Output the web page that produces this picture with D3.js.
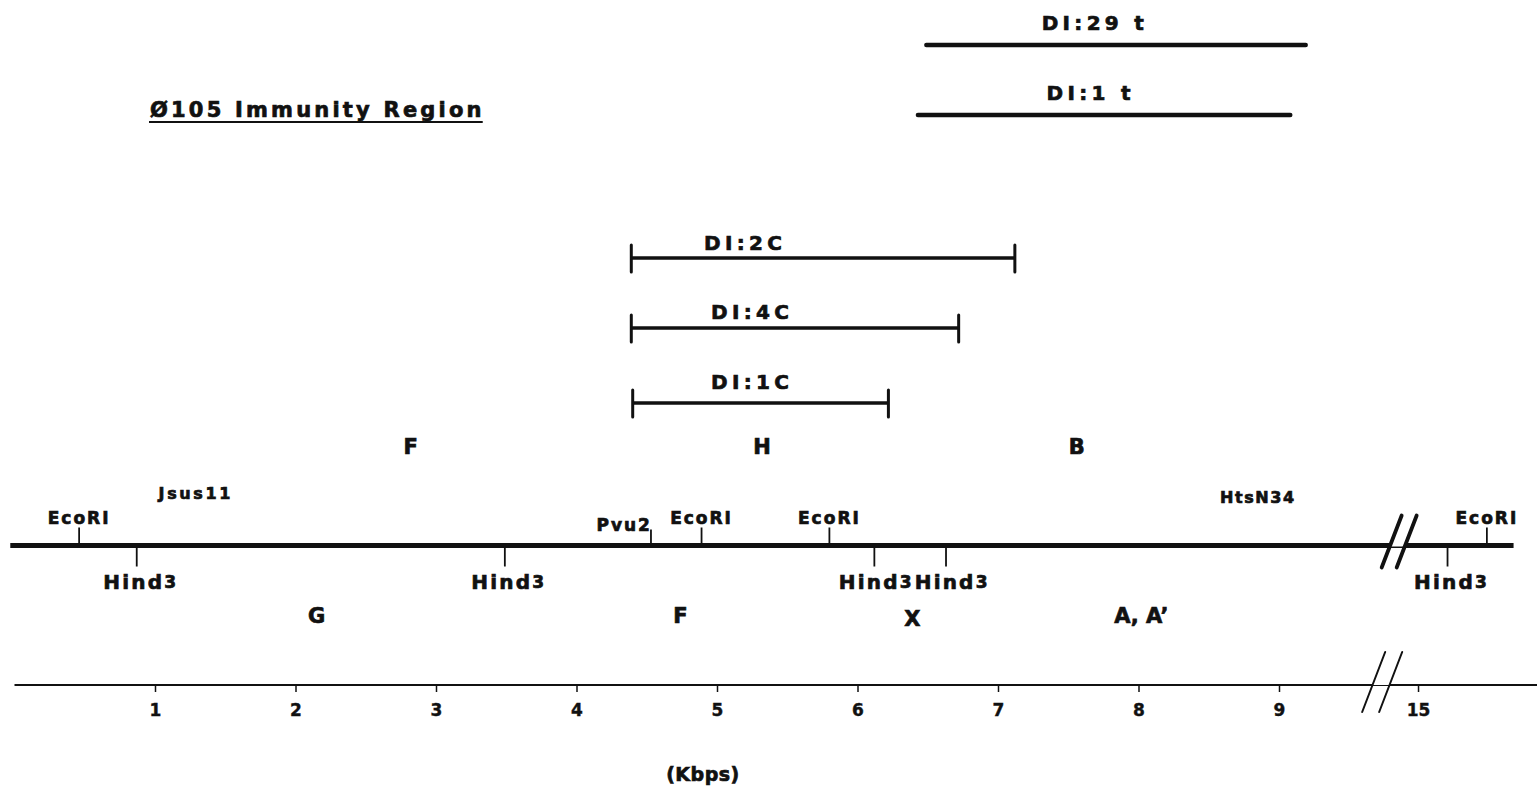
<!DOCTYPE html>
<html>
<head>
<meta charset="utf-8">
<script src="https://cdn.jsdelivr.net/npm/d3@7"></script>
<style>
  html, body { margin: 0; padding: 0; background: #fff; }
  svg text { font-family: "DejaVu Sans", "Liberation Sans", sans-serif; font-weight: bold; fill: #111;
             stroke: #111; stroke-width: 0.7px; paint-order: stroke; }
  .title { font-size: 21px; letter-spacing: 3.2px; }
  .site { font-size: 17px; letter-spacing: 2px; }
  .hind { font-size: 20px; letter-spacing: 2.2px; }
  .frag { font-size: 21px; }
  .marker { font-size: 16px; letter-spacing: 2.6px; }
  .marker.hts { letter-spacing: 1.6px; }
  .span-label { font-size: 20px; letter-spacing: 4.3px; }
  .axis text { font-size: 17px; font-family: "DejaVu Sans", sans-serif; font-weight: bold; fill: #111;
               stroke: #111; stroke-width: 0.4px; }
  .unit { font-size: 19px; letter-spacing: 0.5px; }
</style>
</head>
<body>
<svg id="chart" width="1537" height="787"></svg>
<script>
// ---- Data (positions in kilobase pairs) ----
const siteNames     = ["EcoRI", "Hind3", "Hind3", "Pvu2", "EcoRI", "EcoRI", "Hind3", "Hind3", "Hind3", "EcoRI"];
const sitePositions = [0.46, 0.87, 3.49, 4.53, 4.89, 5.80, 6.12, 6.63, 15.21, 15.49];

const upperFragNames   = ["F", "H", "B"];
const upperFragCenters = [2.82, 5.32, 7.56];
const lowerFragNames   = ["G", "F", "X", "A, A\u2019"];
const lowerFragCenters = [2.15, 4.74, 6.39, 8.02];

const markerNames     = ["Jsus11", "HtsN34"];
const markerPositions = [1.29, 8.85];

const spanNames    = ["DI:29 t", "DI:1 t", "DI:2C", "DI:4C", "DI:1C"];
const spanStarts   = [6.49, 6.43, 4.39, 4.39, 4.40];
const spanEnds     = [9.19, 9.08, 7.12, 6.72, 6.22];
const spanCapped   = [false, false, true, true, true];
const spanLabelKb  = [7.69, 7.66, 5.20, 5.25, 5.25];

const tickValues = [1, 2, 3, 4, 5, 6, 7, 8, 9, 15];
const mapExtent  = [-0.03, 15.68];
const axisExtent = [0, 15.9];
const gapKb      = [9.75, 14.9];   // region of the map left out by the break

// ---- Layout ----
const svg = d3.select("#chart");
const x0 = 14.5, pxPerKb = 140.5, gapPx = 19.6;
const x = d3.scaleLinear()
  .domain([0, gapKb[0], gapKb[1], 16])
  .range([x0, x0 + gapKb[0] * pxPerKb, x0 + gapKb[0] * pxPerKb + gapPx,
          x0 + gapKb[0] * pxPerKb + gapPx + (16 - gapKb[1]) * pxPerKb]);

const mapY = 545.5;
const axisY = 685;
const rowY = [45, 115, 258, 328, 403];
const rowLabelY = [30, 100, 250, 319, 389];

// ---- Title ----
const title = svg.append("text").attr("class", "title").attr("x", 150).attr("y", 117).text("\u00d8105 Immunity Region");
const tb = title.node().getBBox();
svg.append("line").attr("x1", tb.x - 1).attr("x2", tb.x + tb.width - 2)
  .attr("y1", 122).attr("y2", 122).attr("stroke", "#111").attr("stroke-width", 2.2);

// ---- Break mark helper: two slashes with the line blanked out between them ----
function breakMark(cx, cy, halfH, halfDx, gap, strokeW, maskH) {
  const g = svg.append("g");
  const a = cx - gap / 2, b = cx + gap / 2;
  const slope = halfDx / halfH;
  g.append("polygon")
    .attr("points", [
      [a - maskH * slope, cy + maskH], [a + maskH * slope, cy - maskH],
      [b + maskH * slope, cy - maskH], [b - maskH * slope, cy + maskH]
    ].map(p => p.join(",")).join(" "))
    .attr("fill", "#fff");
  [a, b].forEach(c => {
    g.append("line")
      .attr("x1", c - halfDx).attr("y1", cy + halfH)
      .attr("x2", c + halfDx).attr("y2", cy - halfH)
      .attr("stroke", "#111").attr("stroke-width", strokeW).attr("stroke-linecap", "round");
  });
}
const gapMid = (x(gapKb[0]) + x(gapKb[1])) / 2;

// ---- Restriction map ----
svg.append("line")
  .attr("x1", x(mapExtent[0])).attr("x2", x(mapExtent[1]))
  .attr("y1", mapY).attr("y2", mapY)
  .attr("stroke", "#111").attr("stroke-width", 5);
breakMark(gapMid + 5, mapY - 4, 26, 10, 15, 3.8, 5);

const sites = siteNames.map((n, i) => ({ name: n, pos: sitePositions[i], above: n !== "Hind3" }));
const siteG = svg.append("g").selectAll("g").data(sites).join("g")
  .attr("transform", d => `translate(${x(d.pos)},${mapY})`);
siteG.append("line")
  .attr("x1", 0).attr("x2", 0)
  .attr("y1", d => d.above ? -2 : 2)
  .attr("y2", d => d.above ? (d.name === "Pvu2" ? -16 : -18) : 21)
  .attr("stroke", "#111").attr("stroke-width", 1.8);

// Labels above the line
siteG.filter(d => d.above).append("text")
  .attr("class", "site")
  .attr("text-anchor", d => d.name === "Pvu2" ? "end" : "middle")
  .attr("x", d => d.name === "Pvu2" ? 1 : 0)
  .attr("y", d => d.name === "Pvu2" ? -15 : -22)
  .text(d => d.name);

// Labels below the line (Hind3), nudged apart where neighbours would collide
const hindLabels = svg.append("g").selectAll("text").data(sites.filter(d => !d.above)).join("text")
  .attr("class", "hind").attr("text-anchor", "middle")
  .attr("x", d => x(d.pos) + 4).attr("y", mapY + 43);
hindLabels.append("tspan").text("Hind");
hindLabels.append("tspan").attr("font-size", "17px").attr("dy", -1).text("3");
const hindNodes = hindLabels.nodes();
for (let i = 1; i < hindNodes.length; i++) {
  const a = hindNodes[i - 1].getBBox(), b = hindNodes[i].getBBox();
  const overlap = a.x + a.width + 1 - b.x;
  if (overlap > 0) {
    d3.select(hindNodes[i - 1]).attr("x", +hindNodes[i - 1].getAttribute("x") - overlap / 2);
    d3.select(hindNodes[i]).attr("x", +hindNodes[i].getAttribute("x") + overlap / 2);
  }
}

// ---- Fragment letters ----
svg.append("g").selectAll("text").data(upperFragNames).join("text")
  .attr("class", "frag").attr("text-anchor", "middle")
  .attr("x", (d, i) => x(upperFragCenters[i])).attr("y", 454).text(d => d);
svg.append("g").selectAll("text").data(lowerFragNames).join("text")
  .attr("class", "frag").attr("text-anchor", "middle")
  .attr("x", (d, i) => x(lowerFragCenters[i])).attr("y", (d, i) => d === "X" ? 626 : 623).text(d => d);

// ---- Mutation markers ----
svg.append("g").selectAll("text").data(markerNames).join("text")
  .attr("class", (d, i) => i === 0 ? "marker" : "marker hts").attr("text-anchor", "middle")
  .attr("x", (d, i) => x(markerPositions[i])).attr("y", (d, i) => i === 0 ? 499 : 503).text(d => d);

// ---- Deletion / clone spans ----
const spans = spanNames.map((n, i) => ({ name: n, s: spanStarts[i], e: spanEnds[i], capped: spanCapped[i], lab: spanLabelKb[i], y: rowY[i], ly: rowLabelY[i] }));
const spanG = svg.append("g").selectAll("g").data(spans).join("g");
spanG.append("line")
  .attr("x1", d => x(d.s)).attr("x2", d => x(d.e))
  .attr("y1", d => d.y).attr("y2", d => d.y)
  .attr("stroke", "#111").attr("stroke-width", d => d.capped ? 3.5 : 4.5)
  .attr("stroke-linecap", d => d.capped ? "butt" : "round");
spanG.filter(d => d.capped).each(function (d) {
  const g = d3.select(this);
  [d.s, d.e].forEach(v => {
    g.append("line").attr("x1", x(v)).attr("x2", x(v))
      .attr("y1", d.y - 13).attr("y2", d.y + 14)
      .attr("stroke", "#111").attr("stroke-width", 3).attr("stroke-linecap", "round");
  });
});
spanG.append("text").attr("class", "span-label").attr("text-anchor", "middle")
  .attr("x", d => x(d.lab)).attr("y", d => d.ly).text(d => d.name);

// ---- Scale axis (kb) ----
svg.append("line")
  .attr("x1", x(axisExtent[0])).attr("x2", x(axisExtent[1]))
  .attr("y1", axisY).attr("y2", axisY)
  .attr("stroke", "#111").attr("stroke-width", 1.8);
const axis = d3.axisBottom(x).tickValues(tickValues).tickSize(7).tickPadding(12).tickFormat(d3.format("d"));
const axisG = svg.append("g").attr("class", "axis").attr("transform", `translate(0,${axisY})`).call(axis);
axisG.select(".domain").remove();
axisG.selectAll(".tick line").attr("stroke", "#111").attr("stroke-width", 1.5);
breakMark(gapMid - 12, axisY - 3, 30, 11.5, 17, 2, 3);

svg.append("text").attr("class", "unit").attr("text-anchor", "middle")
  .attr("x", 703).attr("y", 781).text("(Kbps)");
</script>
</body>
</html>
